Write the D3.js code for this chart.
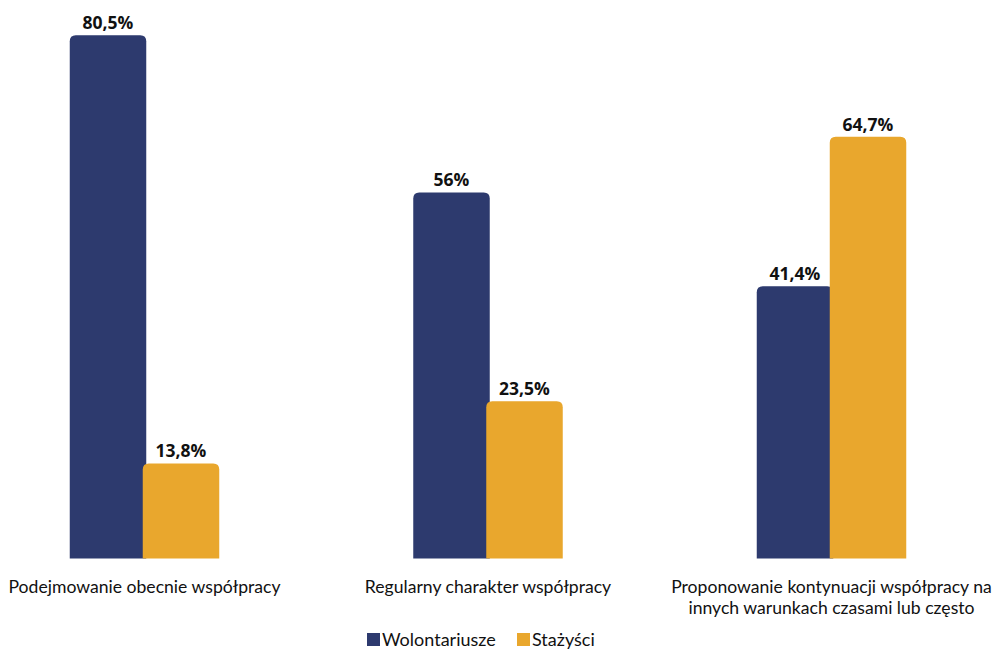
<!DOCTYPE html>
<html>
<head>
<meta charset="utf-8">
<script src="https://cdn.jsdelivr.net/npm/d3@7"></script>
<style>
  html, body { margin: 0; padding: 0; background: #fff; }
  svg { display: block; }
</style>
</head>
<body>
<svg id="chart" width="995" height="649"></svg>
<script>
// Categories (each may wrap onto two lines)
const categories = [
  ["Podejmowanie obecnie współpracy"],
  ["Regularny charakter współpracy"],
  ["Proponowanie kontynuacji współpracy na", "innych warunkach czasami lub często"]
];
const seriesNames = ["Wolontariusze", "Stażyści"];
const wolontariusze = [80.5, 56, 41.4];
const stazysci = [13.8, 23.5, 64.7];
const valueLabels = [["80,5%", "56%", "41,4%"], ["13,8%", "23,5%", "64,7%"]];
const colors = ["#2d3a6e", "#e9a72d"];

const svg = d3.select("#chart");
const baseline = 558.5;
const zeroY = 552;

const x = d3.scaleBand().domain(d3.range(categories.length)).range([-27.25, 1003.25]);
const y = d3.scaleLinear().domain([0, 85]).range([zeroY, zeroY - 85 * 6.42]);
const barW = 76.5;
const overlap = 3.5;

function barPath(x0, top, w, bottom, r) {
  return `M${x0},${bottom}V${top + r}Q${x0},${top} ${x0 + r},${top}H${x0 + w - r}Q${x0 + w},${top} ${x0 + w},${top + r}V${bottom}Z`;
}
function barX(s, i) {
  const cx = x(i) + x.bandwidth() / 2;
  return s === 0 ? cx - barW + overlap / 2 : cx - overlap / 2;
}

const series = [wolontariusze, stazysci];
series.forEach((vals, s) => {
  const g = svg.append("g");
  vals.forEach((v, i) => {
    g.append("path")
      .attr("d", barPath(barX(s, i), y(v), barW, baseline, 6))
      .attr("fill", colors[s]);
  });
});

// value labels
series.forEach((vals, s) => {
  vals.forEach((v, i) => {
    svg.append("text")
      .attr("x", barX(s, i) + barW / 2)
      .attr("y", y(v) - 6)
      .attr("text-anchor", "middle")
      .attr("font-family", "Open Sans")
      .attr("font-weight", "bold")
      .attr("font-size", 17.5)
      .attr("fill", "#111")
      .text(valueLabels[s][i]);
  });
});

// category labels
categories.forEach((lines, i) => {
  const cx = x(i) + x.bandwidth() / 2;
  const t = svg.append("text")
    .attr("text-anchor", "middle")
    .attr("font-family", "Lato")
    .attr("font-size", 17.6)
    .attr("fill", "#111");
  lines.forEach((ln, j) => {
    t.append("tspan").attr("x", cx).attr("y", 593 + j * 21).text(ln);
  });
});

// legend
const legend = svg.append("g");
const legendX = [367, 517];
seriesNames.forEach((name, s) => {
  legend.append("rect")
    .attr("x", legendX[s]).attr("y", 633)
    .attr("width", 13).attr("height", 13)
    .attr("fill", colors[s]);
  legend.append("text")
    .attr("x", legendX[s] + 15).attr("y", 646)
    .attr("font-family", "Lato")
    .attr("font-size", 18)
    .attr("fill", "#111")
    .text(name);
});
</script>
</body>
</html>
